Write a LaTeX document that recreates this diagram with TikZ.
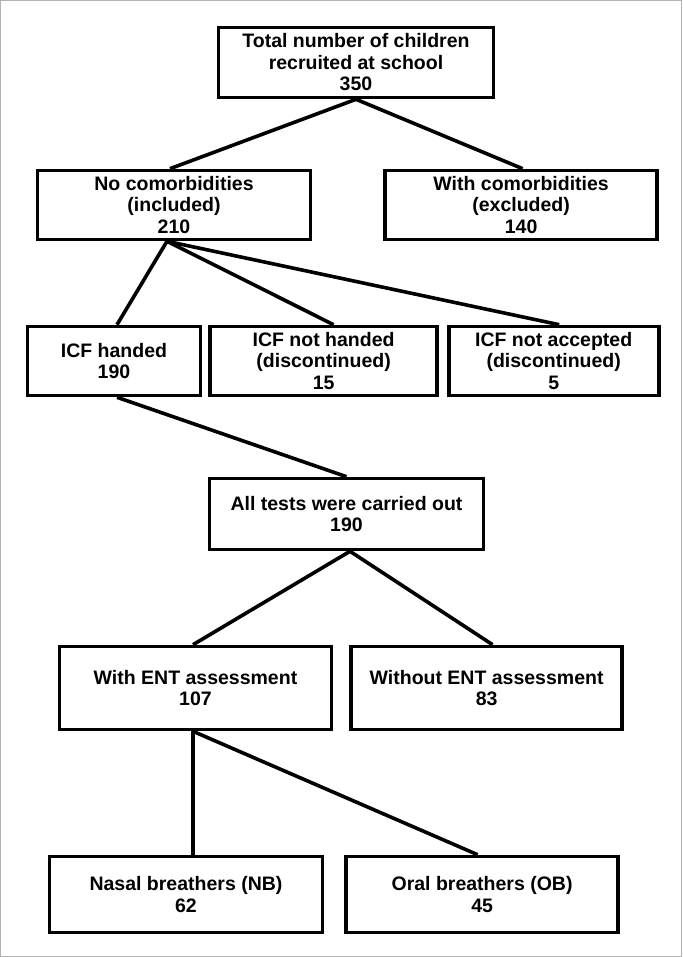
\documentclass[tikz,border=0pt]{standalone}
\usepackage{fontspec}
\setmainfont{Liberation Sans}
\usetikzlibrary{positioning}

\begin{document}
\begin{tikzpicture}[x=1pt, y=-1pt,
	box/.style={rectangle, draw, line width=3.6pt, inner sep=0pt, align=center,
		font=\fontsize{19.5}{21.5}\selectfont\bfseries, minimum width=272pt, minimum height=69pt},
	link/.style={draw, line width=3.6pt},
	frame/.style={draw=gray!60, line width=1pt}]
	
	\useasboundingbox (0,0) rectangle (682,957);
	\path[frame] (0.5,0.5) rectangle (681.5,956.5);
	
	% Recruited
	\node[box, minimum width=275pt, minimum height=70pt] (total) at (356,62.5) {Total number of children\\recruited at school\\350};
	% Comorbidities
	\node[box, minimum width=273pt] (nocom) at (174,205) {No comorbidities\\(included)\\210};
	\node[box, right = 71pt of nocom] (withcom) {With comorbidities\\(excluded)\\140};
	% ICF
	\node[box, minimum width=173pt] (icfyes) at (114,361) {ICF handed\\190};
	\node[box, minimum width=227pt, right = 6pt of icfyes] (icfno) {ICF not handed\\(discontinued)\\15};
	\node[box, minimum width=210pt, right = 8pt of icfno] (icfrej) {ICF not accepted\\(discontinued)\\5};
	% Tests
	\node[box, minimum width=274pt, minimum height=71pt] (tests) at (346.5,514) {All tests were carried out\\190};
	% ENT
	\node[box, minimum height=83pt] (entyes) at (195.5,688) {With ENT assessment\\107};
	\node[box, minimum width=271pt, minimum height=83pt, right = 16pt of entyes] (entno) {Without ENT assessment\\83};
	% Breathers
	\node[box, minimum width=273pt, minimum height=76pt] (nasal) at (186,894.5) {Nasal breathers (NB)\\62};
	\node[box, minimum height=76pt, right = 20pt of nasal] (oral) {Oral breathers (OB)\\45};
	
	\path[link] (total.south) -- ([xshift=-4pt]nocom.north);
	\path[link] (total.south) -- ([xshift=1.5pt]withcom.north);
	
	\path[link] ([xshift=-7pt]nocom.south) -- ([xshift=3pt]icfyes.north);
	\path[link] ([xshift=-7pt]nocom.south) -- ([xshift=10pt]icfno.north);
	\path[link] ([xshift=-7pt]nocom.south) -- ([xshift=5.5pt]icfrej.north);
	
	\path[link] ([xshift=3pt]icfyes.south) -- (tests.north);
	
	\path[link] ([xshift=3.5pt]tests.south) -- ([xshift=-2.5pt]entyes.north);
	\path[link] ([xshift=3.5pt]tests.south) -- ([xshift=6pt]entno.north);
	
	\path[link] ([xshift=-2.5pt]entyes.south) -- ([xshift=7pt]nasal.north);
	\path[link] ([xshift=-2.5pt]entyes.south) -- ([xshift=-4.5pt]oral.north);
\end{tikzpicture}
\end{document}
